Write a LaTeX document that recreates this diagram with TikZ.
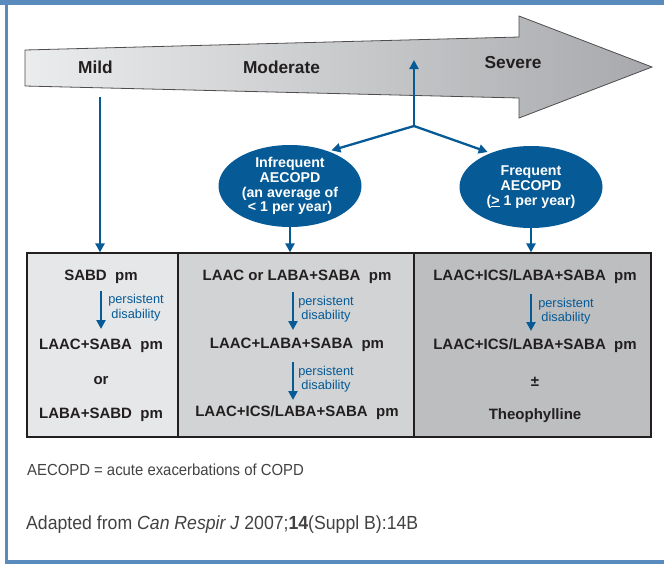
\documentclass[tikz,border=0pt]{standalone}
\usepackage{fontspec}
\setmainfont{Liberation Sans}
\newfontfamily\condfont[FakeStretch=0.93]{Liberation Sans}
\usetikzlibrary{arrows.meta,shapes.geometric}
\definecolor{frameblue}{HTML}{5A8BBE}
\definecolor{cblue}{HTML}{065A96}
\definecolor{ctext}{HTML}{231F20}
\definecolor{colA}{HTML}{E6E7E8}
\definecolor{colB}{HTML}{D1D3D4}
\definecolor{colC}{HTML}{BCBEC0}
\definecolor{arrL}{HTML}{EBECED}
\definecolor{arrR}{HTML}{A7A9AC}
\begin{document}
\begin{tikzpicture}[x=1pt,y=-1pt,
  flow/.style={draw=cblue, line width=2.3pt, -{Triangle[length=9pt,width=9pt]}},
  sev/.style={font=\fontsize{17.3}{20}\selectfont\bfseries, text=ctext, inner sep=0pt},
  drug/.style={font=\fontsize{15}{18}\selectfont\bfseries, text=ctext, inner sep=0pt},
  pers/.style={font=\fontsize{12.8}{14.5}\selectfont, text=cblue, align=center, inner sep=0pt},
  oval/.style={ellipse, fill=cblue, text=white, font=\fontsize{14.2}{14.7}\selectfont\bfseries, align=center, minimum width=143pt, minimum height=82pt, inner sep=0pt},
  colbox/.style={draw=ctext, line width=1.2pt, minimum height=184pt, inner sep=0pt},
  note/.style={font=\condfont, text=ctext!85, anchor=west, inner sep=0pt}
]
\useasboundingbox (0,0) rectangle (664,566);
% frame
\fill[frameblue] (0,0) rectangle (664,5);
\fill[frameblue] (5,0) rectangle (8,563);
\fill[frameblue] (5,560) rectangle (664,564);
% big severity arrow
\shade[left color=arrL, right color=arrR, draw=ctext!80, line width=0.8pt]
  (25,50) -- (519,37) -- (519,16) -- (652,67) -- (519,118) -- (519,98) -- (25,86) -- cycle;
\node[sev] (mild) at (95.5,67) {Mild};
\node[sev] (moderate) at (281.5,67) {Moderate};
\node[sev] (severe) at (513,63) {Severe};
% ellipses
\node[oval] (inf) at (290,186) {Infrequent\\AECOPD\\(an average of\\< 1 per year)};
\node[oval] (fre) at (531,187) {Frequent\\AECOPD\\(\underline{>} 1 per year)};
% table columns
\node[colbox, fill=colA, minimum width=151pt] (colA) at (102.5,345) {};
\node[colbox, fill=colB, minimum width=236pt] (colB) at (296,345) {};
\node[colbox, fill=colC, minimum width=237pt] (colC) at (532.5,345) {};
% connectors
\coordinate (mildstart) at (100,97);
\coordinate (branch) at (414,126);
\coordinate (uptip) at (414,60);
\draw[flow] (mildstart) -- (mildstart |- colA.north);
\draw[flow] (branch) -- (uptip);
\draw[flow, shorten >=3pt] (branch) -- (inf.42);
\draw[flow, shorten >=3pt] (branch) -- (fre.140);
\draw[flow] (inf.south) -- (inf.south |- colB.north);
\draw[flow] (fre.south) -- (fre.south |- colC.north);
% column A
\node[drug] (a1) at (101,277) {SABD\ \ pm};
\node[drug] (a2) at (101,346) {LAAC+SABA\ \ pm};
\node[drug] (a3) at (101,381) {or};
\node[drug] (a4) at (101,415) {LABA+SABD\ \ pm};
\coordinate (a1s) at (101,291);
\coordinate (a1e) at (101,329);
\draw[flow] (a1s) -- (a1e);
\node[pers] (pa) at (136,307.5) {persistent\\disability};
% column B
\node[drug] (b1) at (297,277) {LAAC or LABA+SABA\ \ pm};
\node[drug] (b2) at (297,345) {LAAC+LABA+SABA\ \ pm};
\node[drug] (b3) at (297,413) {LAAC+ICS/LABA+SABA\ \ pm};
\coordinate (b1s) at (293,292);
\coordinate (b1e) at (293,330);
\coordinate (b2s) at (293,362);
\coordinate (b2e) at (293,400);
\draw[flow] (b1s) -- (b1e);
\draw[flow] (b2s) -- (b2e);
\node[pers] (pb1) at (326,309) {persistent\\disability};
\node[pers] (pb2) at (326,379) {persistent\\disability};
% column C
\node[drug] (c1) at (535,277) {LAAC+ICS/LABA+SABA\ \ pm};
\node[drug] (c2) at (535,346) {LAAC+ICS/LABA+SABA\ \ pm};
\node[drug] (c3) at (535,382) {±};
\node[drug] (c4) at (535,416) {Theophylline};
\coordinate (c1s) at (531,294);
\coordinate (c1e) at (531,331);
\draw[flow] (c1s) -- (c1e);
\node[pers] (pc) at (566,311) {persistent\\disability};
% notes
\node[note, font=\condfont\fontsize{16}{19}\selectfont] (n1) at (27,470) {AECOPD = acute exacerbations of COPD};
\node[note, font=\condfont\fontsize{19}{22}\selectfont] (n2) at (26,525) {Adapted from \textit{Can Respir J} 2007;\textbf{14}(Suppl B):14B};
\end{tikzpicture}
\end{document}
